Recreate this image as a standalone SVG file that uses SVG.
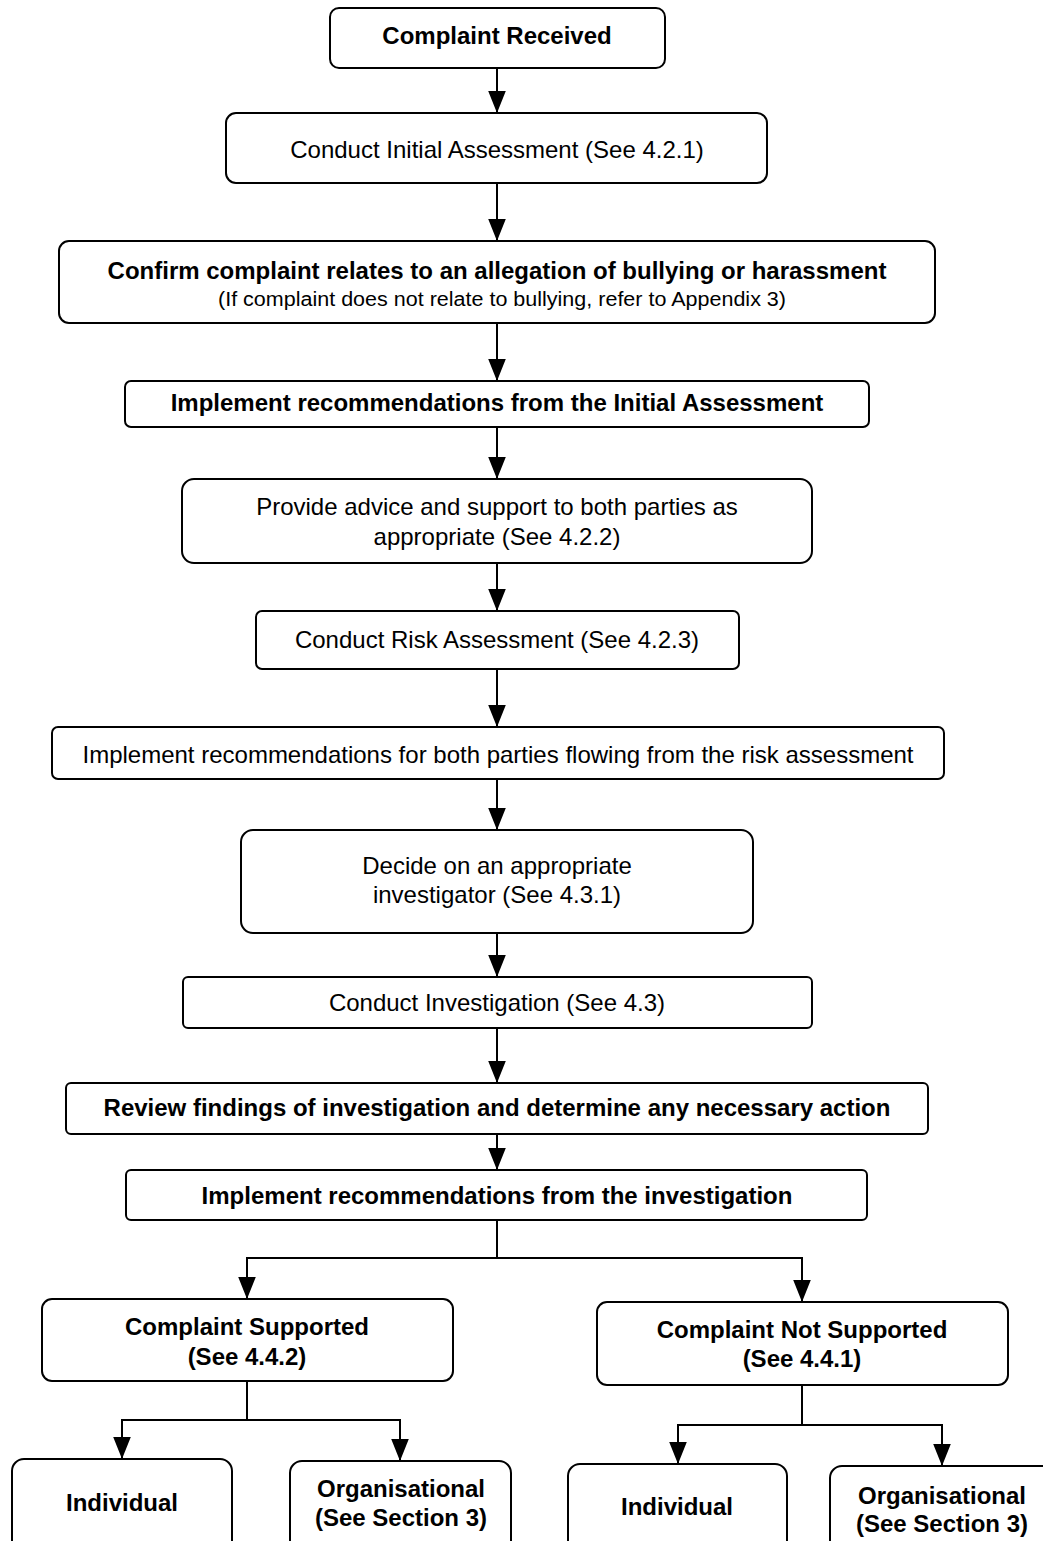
<svg xmlns="http://www.w3.org/2000/svg" width="1043" height="1541" viewBox="0 0 1043 1541">
<style>
.box{fill:#fff;stroke:#000;stroke-width:2}
.t{font-family:"Liberation Sans",Arial,sans-serif;font-size:24px;fill:#000;text-anchor:middle}
.b{font-weight:bold}
.s{font-size:20px}
.c{fill:none;stroke:#000;stroke-width:2}
</style>
<defs>
<marker id="ad" markerUnits="userSpaceOnUse" markerWidth="18" markerHeight="22" refX="8" refY="20" orient="0" viewBox="0 0 16 20">
<path d="M0,0 L16,0 L8,20 Z" fill="#000"/>
</marker>
</defs>
<rect width="1043" height="1541" fill="#fff"/>
<g id="connectors">
<path class="c" d="M497,68 V113" marker-end="url(#ad)"/>
<path class="c" d="M497,183 V241" marker-end="url(#ad)"/>
<path class="c" d="M497,323 V381" marker-end="url(#ad)"/>
<path class="c" d="M497,427 V479" marker-end="url(#ad)"/>
<path class="c" d="M497,563 V611" marker-end="url(#ad)"/>
<path class="c" d="M497,669 V727" marker-end="url(#ad)"/>
<path class="c" d="M497,779 V830" marker-end="url(#ad)"/>
<path class="c" d="M497,933 V977" marker-end="url(#ad)"/>
<path class="c" d="M497,1028 V1083" marker-end="url(#ad)"/>
<path class="c" d="M497,1134 V1170" marker-end="url(#ad)"/>
<path class="c" d="M497,1220 V1258 H247 V1299" marker-end="url(#ad)"/>
<path class="c" d="M497,1258 H802 V1302" marker-end="url(#ad)"/>
<path class="c" d="M247,1381 V1420 H122 V1459" marker-end="url(#ad)"/>
<path class="c" d="M247,1420 H400 V1461" marker-end="url(#ad)"/>
<path class="c" d="M802,1385 V1425 H678 V1464" marker-end="url(#ad)"/>
<path class="c" d="M802,1425 H942 V1466" marker-end="url(#ad)"/>
</g>
<g id="n1"><rect class="box" x="330" y="8" width="335" height="60" rx="9"/><text class="t b" x="497" y="44">Complaint Received</text></g>
<g id="n2"><rect class="box" x="226" y="113" width="541" height="70" rx="10"/><text class="t" x="497" y="158">Conduct Initial Assessment (See 4.2.1)</text></g>
<g id="n3"><rect class="box" x="59" y="241" width="876" height="82" rx="10"/><text class="t b" x="497" y="279">Confirm complaint relates to an allegation of bullying or harassment</text><text class="t s" x="502" y="306" textLength="568" lengthAdjust="spacingAndGlyphs">(If complaint does not relate to bullying, refer to Appendix 3)</text></g>
<g id="n4"><rect class="box" x="125" y="381" width="744" height="46" rx="6"/><text class="t b" x="497" y="411">Implement recommendations from the Initial Assessment</text></g>
<g id="n5"><rect class="box" x="182" y="479" width="630" height="84" rx="12"/><text class="t" x="497" y="515">Provide advice and support to both parties as</text><text class="t" x="497" y="545">appropriate (See 4.2.2)</text></g>
<g id="n6"><rect class="box" x="256" y="611" width="483" height="58" rx="6"/><text class="t" x="497" y="648">Conduct Risk Assessment (See 4.2.3)</text></g>
<g id="n7"><rect class="box" x="52" y="727" width="892" height="52" rx="6"/><text class="t" x="498" y="763">Implement recommendations for both parties flowing from the risk assessment</text></g>
<g id="n8"><rect class="box" x="241" y="830" width="512" height="103" rx="12"/><text class="t" x="497" y="874">Decide on an appropriate</text><text class="t" x="497" y="903">investigator (See 4.3.1)</text></g>
<g id="n9"><rect class="box" x="183" y="977" width="629" height="51" rx="5"/><text class="t" x="497" y="1011">Conduct Investigation (See 4.3)</text></g>
<g id="n10"><rect class="box" x="66" y="1083" width="862" height="51" rx="5"/><text class="t b" x="497" y="1116">Review findings of investigation and determine any necessary action</text></g>
<g id="n11"><rect class="box" x="126" y="1170" width="741" height="50" rx="5"/><text class="t b" x="497" y="1204">Implement recommendations from the investigation</text></g>
<g id="n12"><rect class="box" x="42" y="1299" width="411" height="82" rx="10"/><text class="t b" x="247" y="1335">Complaint Supported</text><text class="t b" x="247" y="1365">(See 4.4.2)</text></g>
<g id="n13"><rect class="box" x="597" y="1302" width="411" height="83" rx="10"/><text class="t b" x="802" y="1338">Complaint Not Supported</text><text class="t b" x="802" y="1367">(See 4.4.1)</text></g>
<g id="n14"><rect class="box" x="12" y="1459" width="220" height="110" rx="12"/><text class="t b" x="122" y="1511">Individual</text></g>
<g id="n15"><rect class="box" x="290" y="1461" width="221" height="110" rx="12"/><text class="t b" x="401" y="1497">Organisational</text><text class="t b" x="401" y="1526">(See Section 3)</text></g>
<g id="n16"><rect class="box" x="568" y="1464" width="219" height="110" rx="12"/><text class="t b" x="677" y="1515">Individual</text></g>
<g id="n17"><rect class="box" x="830" y="1466" width="230" height="110" rx="12"/><text class="t b" x="942" y="1504">Organisational</text><text class="t b" x="942" y="1532">(See Section 3)</text></g>
</svg>
